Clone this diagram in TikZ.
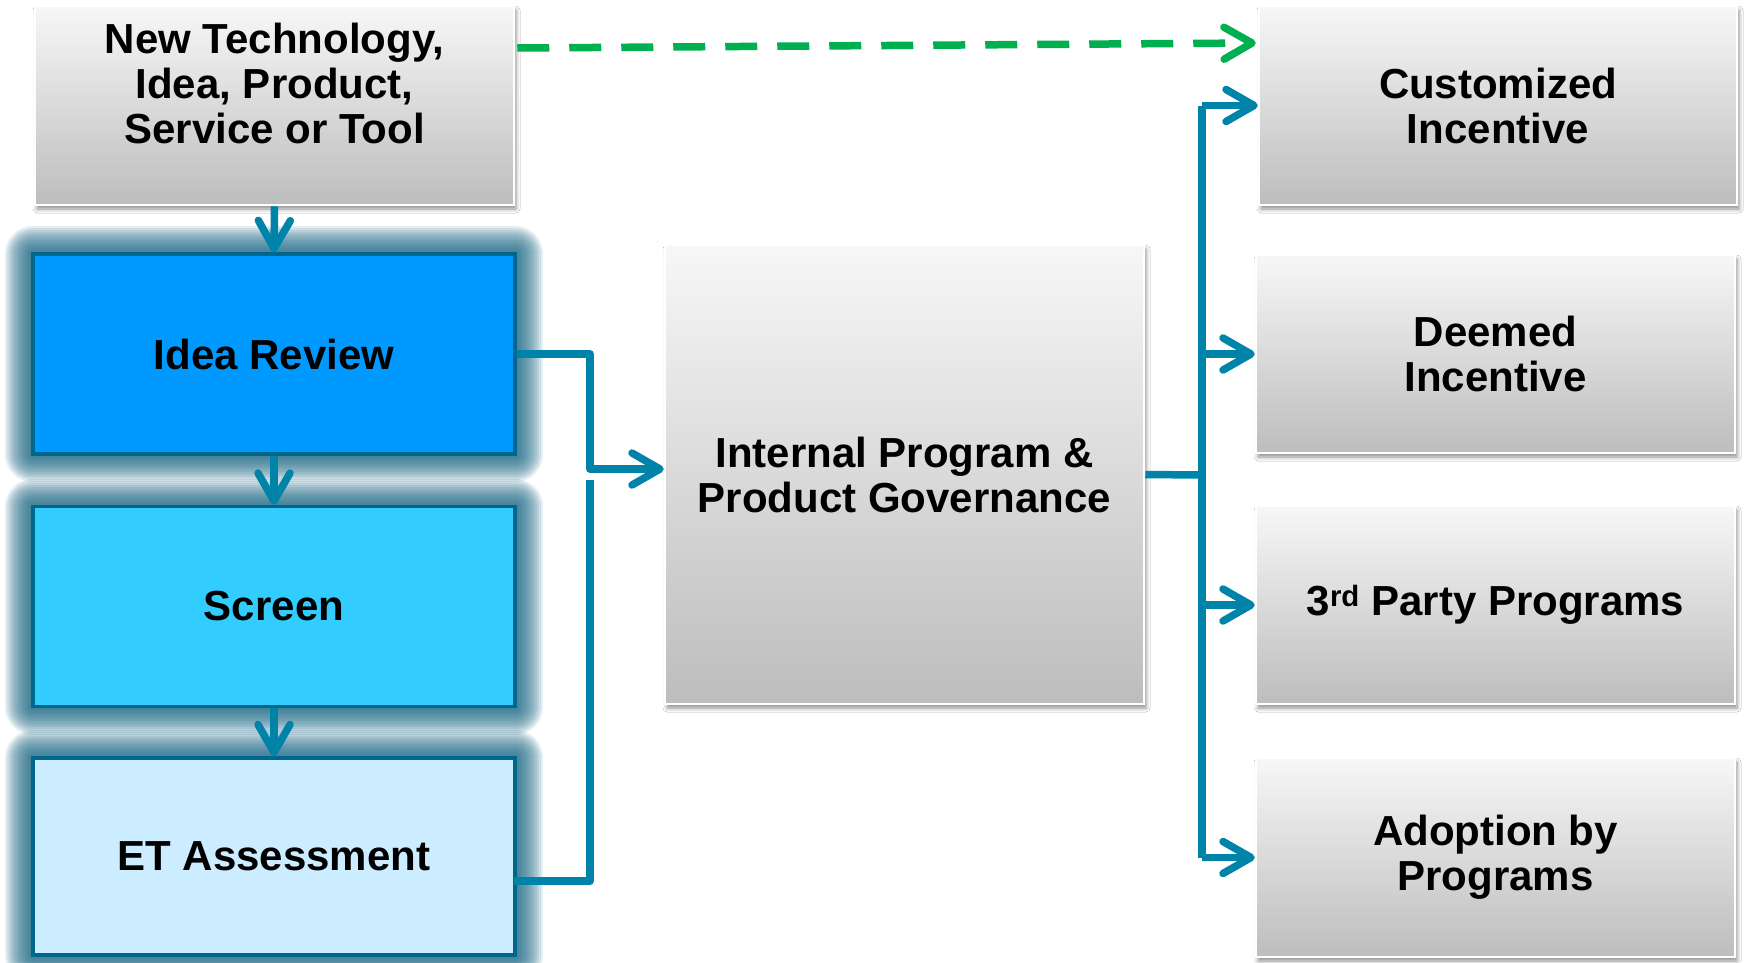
\documentclass[tikz,border=0pt]{standalone}
\usepackage{fontspec}
\setmainfont{Liberation Sans}
\usetikzlibrary{arrows.meta,calc,shadows.blur}
\definecolor{connc}{HTML}{0083A9}
\definecolor{greenc}{HTML}{00B050}
\definecolor{bordc}{HTML}{00678C}
\definecolor{glowc}{HTML}{1D6A88}
\definecolor{ideac}{HTML}{0099FF}
\definecolor{screenc}{HTML}{33CCFF}
\definecolor{etcol}{HTML}{CCECFF}
\definecolor{gtop}{HTML}{F7F7F7}
\definecolor{gmid}{HTML}{DCDCDC}
\definecolor{gbot}{HTML}{BDBDBD}
\tikzset{
  Chev/.tip={Straight Barb[length=28pt,width=32pt,round]},
  txt/.style={font=\fontsize{42}{45}\selectfont\bfseries, align=center, text=black},
  graybox/.style={txt, rectangle, draw=white, line width=2.5pt,
    top color=gtop, middle color=gmid, bottom color=gbot,
    blur shadow={shadow xshift=2pt, shadow yshift=-4pt, shadow blur radius=4pt, shadow opacity=45},
    minimum width=479pt, minimum height=199pt},
  glowring/.style={preaction={draw=glowc, draw opacity=0.115, line width=#1, line join=round}},
  bluebox/.style={txt, rectangle,
    glowring=56pt, glowring=52pt, glowring=48pt, glowring=44pt, glowring=40pt,
    glowring=36pt, glowring=32pt, glowring=28pt, glowring=24pt, glowring=20pt,
    glowring=16pt, glowring=12pt, glowring=8pt, glowring=4pt,
    draw=bordc, line width=3.5pt,
    minimum width=482pt, minimum height=200pt},
  conn/.style={draw=connc, line width=7.5pt, line join=round},
  greenconn/.style={draw=greenc, line width=7.5pt, dash pattern=on 32pt off 20pt},
}
\begin{document}
\begin{tikzpicture}[x=1pt,y=-1pt]
\useasboundingbox (0,0) rectangle (1745,962);
\fill[white] (0,0) rectangle (1745,962);

% left column
\node[graybox] (top) at (274.5,105.5) {New Technology,\\Idea, Product,\\Service or Tool\\\mbox{}};
\node[bluebox, fill=ideac] (idea) at (274,354) {Idea Review};
\node[bluebox, fill=screenc] (screen) at (274,606.5) {Screen};
\node[bluebox, fill=etcol, minimum height=197pt] (et) at (274,856.5) {ET Assessment};

% middle
\node[graybox, minimum height=459pt] (gov) at (904.5,474.5) {Internal Program \&\\Product Governance};

% right column
\node[graybox, minimum width=478pt] (cust) at (1498,105.5) {Customized\\Incentive};
\node[graybox, minimum height=198pt] (deemed) at (1495.5,354) {Deemed\\Incentive};
\node[graybox, minimum height=198pt] (third) at (1495.5,605) {3\textsuperscript{rd} Party Programs};
\node[graybox] (adopt) at (1495.5,857.5) {Adoption by\\Programs};

% vertical arrows in left column
\draw[conn, -{Chev}] (top.south) -- (idea.north);
\draw[conn, -{Chev}] (idea.south) -- (screen.north);
\draw[conn, -{Chev}] (screen.south) -- (et.north);

% left bus into governance
\coordinate (lbus) at (590,469);
\draw[conn, -{Chev}] (idea.east) -| (lbus) -- (lbus -| gov.west);
\draw[conn] ($(et.east)+(-3,24.5)$) -| ($(lbus)+(0,11)$);

% right bus
\coordinate (rbus) at (1202,475);
\draw[conn] (gov.east) -- (rbus);
\draw[conn] (rbus |- cust.west) -- (rbus |- adopt.west);
\draw[conn, -{Chev}] (rbus |- cust.west) -- (cust.west);
\draw[conn, -{Chev}] (rbus |- deemed.west) -- (deemed.west);
\draw[conn, -{Chev}] (rbus |- third.west) -- (third.west);
\draw[conn, -{Chev}] (rbus |- adopt.west) -- (adopt.west);

% green dashed
\coordinate (gstart) at ($(top.east)+(2,-57.5)$);
\coordinate (gend) at ($(cust.west)+(-2,-62.5)$);
\draw[greenconn, -{Chev}] (gstart) -- (gend);
\end{tikzpicture}
\end{document}
